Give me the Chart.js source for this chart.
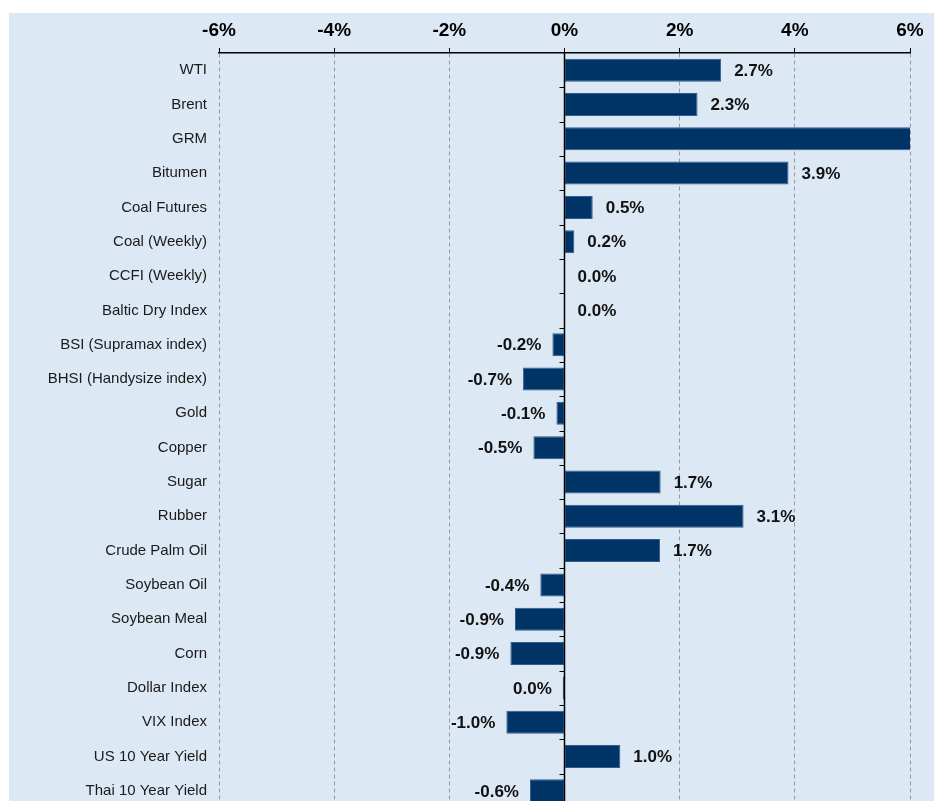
<!DOCTYPE html>
<html>
<head>
<meta charset="utf-8">
<script src="https://cdn.jsdelivr.net/npm/chart.js@4"></script>
<style>
  html, body { margin: 0; padding: 0; background: #fff; overflow: hidden; width: 934px; height: 801px; }
  #wrap { position: absolute; left: 9px; top: 13px; width: 925px; height: 795px; background: #dde8f5; }
  #chartBar { display: block; }
</style>
</head>
<body>
<div id="wrap"><canvas id="chartBar" width="925" height="795"></canvas></div>
<script>
// категории и значения (% изменения)
var labels = ['WTI', 'Brent', 'GRM', 'Bitumen', 'Coal Futures', 'Coal (Weekly)', 'CCFI (Weekly)',
    'Baltic Dry Index', 'BSI (Supramax index)', 'BHSI (Handysize index)', 'Gold', 'Copper', 'Sugar',
    'Rubber', 'Crude Palm Oil', 'Soybean Oil', 'Soybean Meal', 'Corn', 'Dollar Index', 'VIX Index',
    'US 10 Year Yield', 'Thai 10 Year Yield'];
var changes = [2.72, 2.31, 6.8, 3.89, 0.49, 0.17, 0.0, 0.0, -0.21, -0.72, -0.14, -0.54, 1.67,
    3.11, 1.66, -0.42, -0.86, -0.94, -0.03, -1.01, 0.97, -0.60];
var ticksX = [-6, -4, -2, 0, 2, 4, 6];

var FONT = "'Liberation Sans', Arial, sans-serif";

// подписи значений + нулевая ось с засечками
var barLabels = {
    id: 'barLabels',
    afterDatasetsDraw: function (chart) {
        var ctx = chart.ctx;
        var x = chart.scales.x;
        var area = chart.chartArea;
        var zx = x.getPixelForValue(0);

        ctx.save();
        // нулевая линия
        ctx.strokeStyle = '#000';
        ctx.lineWidth = 1.5;
        ctx.beginPath();
        ctx.moveTo(zx, area.top);
        ctx.lineTo(zx, area.bottom);
        ctx.stroke();
        // засечки между категориями
        ctx.lineWidth = 1;
        var step = (area.bottom - area.top) / labels.length;
        for (var i = 1; i < labels.length; i++) {
            var ty = Math.round(area.top + step * i) + 0.5;
            ctx.beginPath();
            ctx.moveTo(zx - 5, ty);
            ctx.lineTo(zx, ty);
            ctx.stroke();
        }

        ctx.fillStyle = '#111';
        ctx.font = 'bold 17px ' + FONT;
        ctx.textBaseline = 'middle';
        chart.getDatasetMeta(0).data.forEach(function (bar, i) {
            var v = changes[i];
            if (v > x.max || v < x.min) return;
            var txt = (Math.abs(v) < 0.05 ? 0 : v).toFixed(1) + '%';
            if (v >= 0) {
                ctx.textAlign = 'left';
                ctx.fillText(txt, x.getPixelForValue(v) + 13, bar.y + 1);
            } else {
                ctx.textAlign = 'right';
                ctx.fillText(txt, x.getPixelForValue(v) - 11, bar.y + 1);
            }
        });
        ctx.restore();
    }
};

var chartBar = new Chart(document.getElementById('chartBar'), {
    type: 'bar',
    data: {
        labels: labels,
        datasets: [
            {
                data: changes,
                backgroundColor: '#003366',
                borderColor: '#2f5d8e',
                borderWidth: 1,
                borderSkipped: false,
                barPercentage: 0.67,
                categoryPercentage: 1.0
            }
        ]
    },
    options: {
        indexAxis: 'y',
        responsive: false,
        animation: false,
        layout: { padding: { top: 0, left: 0, right: 24, bottom: 0 } },
        plugins: {
            legend: { display: false },
            tooltip: { enabled: false }
        },
        scales: {
            x: {
                position: 'top',
                min: -6,
                max: 6,
                afterBuildTicks: function (scale) {
                    scale.ticks = ticksX.map(function (v) { return { value: v }; });
                },
                afterFit: function (scale) { scale.height = 40; },
                ticks: {
                    padding: 6,
                    color: '#000',
                    font: { family: FONT, size: 19, weight: 'bold' },
                    callback: function (v) { return v + '%'; }
                },
                grid: {
                    color: function (c) { return c.tick && c.tick.value === 0 ? 'rgba(0,0,0,0)' : '#9a9a9a'; },
                    lineWidth: 1,
                    tickLength: 5,
                    tickColor: '#000',
                    tickBorderDash: []
                },
                border: { display: true, color: '#000', width: 1.5, dash: [4, 3] }
            },
            y: {
                afterFit: function (scale) {
                    scale.width = 210;
                    scale.paddingTop = 0;
                    scale.paddingBottom = 0;
                },
                ticks: {
                    padding: 12,
                    color: '#1a1a1a',
                    font: { family: FONT, size: 15 }
                },
                grid: { display: false, drawTicks: false },
                border: { display: false }
            }
        }
    },
    plugins: [barLabels]
});
</script>
</body>
</html>
